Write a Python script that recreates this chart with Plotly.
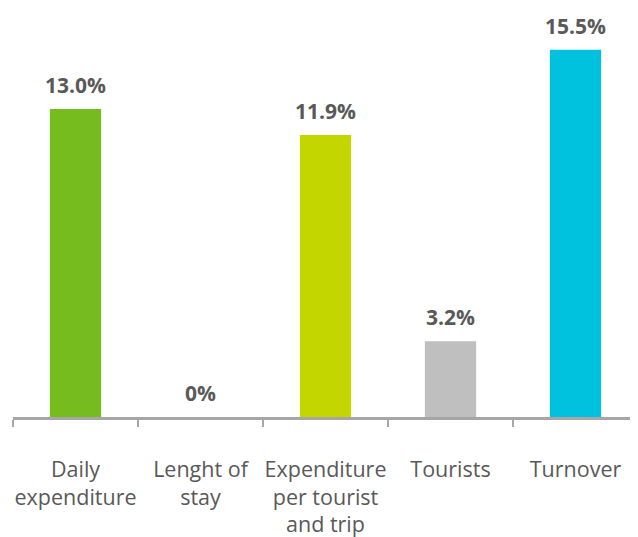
import plotly.graph_objects as go

categories = ["Daily<br>expenditure", "Lenght of<br>stay", "Expenditure<br>per tourist<br>and trip", "Tourists", "Turnover"]
values = [13.0, 0.0, 11.9, 3.2, 15.5]
value_labels = ["13.0%", "0%", "11.9%", "3.2%", "15.5%"]
colors = ["#77BC1F", "#77BC1F", "#C4D600", "#BFBFBF", "#00C1DE"]

fig = go.Figure()
fig.add_trace(go.Bar(x=categories, y=values, marker=dict(color=colors, line=dict(width=0)),
                     width=0.41, hoverinfo="skip"))

for c, v, t in zip(categories, values, value_labels):
    fig.add_annotation(x=c, y=v, text="<b>%s</b>" % t, showarrow=False, yanchor="bottom",
                       yshift=8, font=dict(family="Open Sans", size=21, color="#595959"))

# page body has an 8px margin, so the figure is sized to fit the 638x537 window
fig.update_layout(
    width=630, height=529,
    margin=dict(l=5, r=0, t=0, b=120, autoexpand=False),
    paper_bgcolor="white", plot_bgcolor="white",
    showlegend=False,
    xaxis=dict(showline=True, linecolor="#A6A6A6", linewidth=2.5, automargin=False,
               ticks="outside", tickson="boundaries", ticklen=7, tickwidth=2, tickcolor="#A6A6A6",
               tickangle=0, ticklabelstandoff=31,
               tickfont=dict(family="Open Sans", size=21.5, color="#595959"),
               showgrid=False, zeroline=False),
    yaxis=dict(range=[0, 17.26], visible=False, showgrid=False, zeroline=False, automargin=False),
)

fig.write_html("out.html")
